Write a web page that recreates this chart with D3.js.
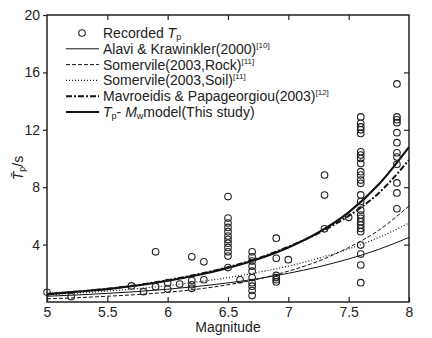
<!DOCTYPE html>
<html>
<head>
<meta charset="utf-8">
<script src="https://cdn.jsdelivr.net/npm/d3@7"></script>
<style>
  body { margin: 0; background: #fff; }
  svg { font-family: 'Liberation Sans', Arial, sans-serif; }
</style>
</head>
<body>
<svg id="chart" width="432" height="338"></svg>
<script>
const modelM = [5, 5.25, 5.5, 5.75, 6, 6.25, 6.5, 6.75, 7, 7.25, 7.5, 7.75, 8];
const alaviTp = [0.4, 0.49, 0.6, 0.73, 0.89, 1.09, 1.33, 1.63, 2.0, 2.45, 3.0, 3.67, 4.5];
const somRockTp = [0.22, 0.3, 0.4, 0.52, 0.68, 0.9, 1.2, 1.6, 2.15, 2.85, 3.8, 5.0, 6.7];
const somSoilTp = [0.5, 0.62, 0.76, 0.93, 1.14, 1.4, 1.7, 2.07, 2.5, 3.05, 3.7, 4.5, 5.5];
const mavTp = [0.55, 0.72, 0.92, 1.18, 1.52, 1.93, 2.42, 3.05, 3.85, 4.8, 6.0, 7.6, 9.9];
const studyTp = [0.55, 0.72, 0.9, 1.15, 1.48, 1.88, 2.38, 3.0, 3.8, 4.85, 6.25, 8.2, 10.8];

// recorded pulse periods, grouped by event magnitude
const recMag = [5.0, 5.2, 5.7, 5.8, 5.9, 6.0, 6.1, 6.2, 6.3, 6.5, 6.6, 6.7, 6.9, 7.0, 7.3, 7.5, 7.6, 7.9];
const recTp = [
  [0.68],
  [0.38],
  [1.12],
  [0.72],
  [3.5, 1.07],
  [0.9, 1.35],
  [1.25],
  [3.15, 1.5, 1.2, 0.95],
  [2.8, 1.55],
  [7.35, 5.85, 5.5, 5.2, 4.9, 4.6, 4.35, 4.1, 3.8, 3.5, 3.2, 2.4],
  [1.55],
  [3.5, 3.15, 2.85, 2.5, 2.15, 1.7, 1.35, 1.1, 0.8, 0.45],
  [4.45, 3.05, 1.85, 1.7, 1.55, 1.4],
  [2.95],
  [8.85, 7.45, 5.1],
  [5.9],
  [12.9, 12.45, 12.2, 12.0, 11.75, 10.47, 10.24, 10.0, 9.66, 9.08, 8.85, 8.5, 8.27,
    7.46, 7.0, 6.4, 6.06, 5.83, 5.6, 5.37, 5.13, 4.9, 3.97, 3.34, 2.58, 1.35],
  [15.2, 12.9, 12.7, 12.5, 11.8, 11.1, 10.4, 10.1, 9.6, 8.3, 7.6, 6.5],
];

const xTicks = [5, 5.5, 6, 6.5, 7, 7.5, 8];
const yTicks = [4, 8, 12, 16, 20];

const legendItems = [
  { label: 'Alavi & Krawinkler(2000)', ref: '[10]', values: alaviTp, width: 1, dash: null },
  { label: 'Somervile(2003,Rock)', ref: '[11]', values: somRockTp, width: 1, dash: '4,2' },
  { label: 'Somervile(2003,Soil)', ref: '[11]', values: somSoilTp, width: 1.2, dash: '1,2' },
  { label: 'Mavroeidis & Papageorgiou(2003)', ref: '[12]', values: mavTp, width: 2, dash: '6,2,2,2' },
  { label: 'model(This study)', ref: '', values: studyTp, width: 2.2, dash: null, tpmw: true },
];

const margin = { top: 15, right: 23, bottom: 36, left: 47 };
const W = 432, H = 338;
const width = W - margin.left - margin.right;
const height = H - margin.top - margin.bottom;
const ink = '#222';

const svg = d3.select('#chart');
const g = svg.append('g').attr('transform', `translate(${margin.left},${margin.top})`);

const x = d3.scaleLinear().domain([5, 8]).range([0, width]);
const y = d3.scaleLinear().domain([0, 20]).range([height, 0]);

// axes: labelled bottom/left, mirrored ticks on top/right
g.append('g')
  .attr('transform', `translate(0,${height})`)
  .call(d3.axisBottom(x).tickValues(xTicks).tickFormat(d3.format('')).tickSizeInner(-5).tickSizeOuter(0).tickPadding(5));
const left = g.append('g')
  .call(d3.axisLeft(y).tickValues(yTicks).tickSizeInner(4).tickSizeOuter(0).tickPadding(2));
g.append('g')
  .call(d3.axisTop(x).tickValues(xTicks.slice(1, -1)).tickFormat('').tickSizeInner(-5).tickSizeOuter(0));
g.append('g')
  .attr('transform', `translate(${width},0)`)
  .call(d3.axisRight(y).tickValues(yTicks.slice(0, -1)).tickFormat('').tickSizeInner(-5).tickSizeOuter(0));

g.selectAll('.domain').remove();
g.selectAll('.tick line').attr('stroke', ink).attr('stroke-width', 1.2);
g.selectAll('.tick text').attr('fill', ink).attr('font-size', 14);
left.selectAll('.tick text').attr('dx', -1);

g.append('rect')
  .attr('width', width).attr('height', height)
  .attr('fill', 'none').attr('stroke', ink).attr('stroke-width', 1.5);

// model curves
g.append('clipPath').attr('id', 'plot-clip')
  .append('rect').attr('width', width).attr('height', height);
const line = d3.line()
  .x((d, i) => x(modelM[i]))
  .y((d) => y(d))
  .curve(d3.curveMonotoneX);

g.append('g').attr('clip-path', 'url(#plot-clip)')
  .selectAll('path')
  .data(legendItems)
  .join('path')
  .attr('d', (d) => line(d.values))
  .attr('fill', 'none')
  .attr('stroke', '#111')
  .attr('stroke-width', (d) => d.width)
  .attr('stroke-dasharray', (d) => d.dash);

// recorded points
const points = recMag.flatMap((m, i) => recTp[i].map((t) => [m, t]));
g.append('g')
  .selectAll('circle')
  .data(points)
  .join('circle')
  .attr('cx', (d) => x(d[0]))
  .attr('cy', (d) => y(d[1]))
  .attr('r', 3.3)
  .attr('fill', 'none')
  .attr('stroke', ink)
  .attr('stroke-width', 1.1);

// legend
const leg = g.append('g');
const rowY = (i) => 18 + i * 15.8;
const lx0 = 19, lx1 = 52, tx = 56;

leg.append('circle')
  .attr('cx', 35).attr('cy', rowY(0))
  .attr('r', 3.3).attr('fill', 'none').attr('stroke', ink).attr('stroke-width', 1.1);
const t0 = leg.append('text').attr('x', tx).attr('y', rowY(0)).attr('dy', '0.35em')
  .attr('font-size', 14).attr('fill', ink);
t0.append('tspan').text('Recorded ');
t0.append('tspan').attr('font-style', 'italic').text('T');
t0.append('tspan').attr('font-size', 9).attr('dy', 2).text('p');

legendItems.forEach((d, i) => {
  const yy = rowY(i + 1);
  leg.append('line')
    .attr('x1', lx0).attr('x2', lx1).attr('y1', yy).attr('y2', yy)
    .attr('stroke', '#111').attr('stroke-width', d.width)
    .attr('stroke-dasharray', d.dash);
  const t = leg.append('text').attr('x', tx).attr('y', yy).attr('dy', '0.35em')
    .attr('font-size', 14).attr('fill', ink);
  if (d.tpmw) {
    t.append('tspan').attr('font-style', 'italic').text('T');
    t.append('tspan').attr('font-size', 9).attr('dy', 2).text('p');
    t.append('tspan').attr('dy', -2).text('- ');
    t.append('tspan').attr('font-style', 'italic').text('M');
    t.append('tspan').attr('font-size', 9).attr('dy', 2).text('w');
    t.append('tspan').attr('dy', -2).text(d.label);
  } else {
    t.append('tspan').text(d.label);
    t.append('tspan').attr('font-size', 8).attr('dy', -6).text(d.ref);
  }
});

// axis titles
svg.append('text')
  .attr('x', margin.left + width / 2).attr('y', 332)
  .attr('text-anchor', 'middle').attr('font-size', 14).attr('fill', ink)
  .text('Magnitude');

const yl = svg.append('text')
  .attr('transform', 'translate(23,168) rotate(-90)')
  .attr('text-anchor', 'middle').attr('font-size', 14).attr('fill', ink);
yl.append('tspan').attr('font-style', 'italic').text('T\u0304');
yl.append('tspan').attr('font-size', 9).attr('dy', 2).text('p');
yl.append('tspan').attr('dy', -2).text('/s');
</script>
</body>
</html>
